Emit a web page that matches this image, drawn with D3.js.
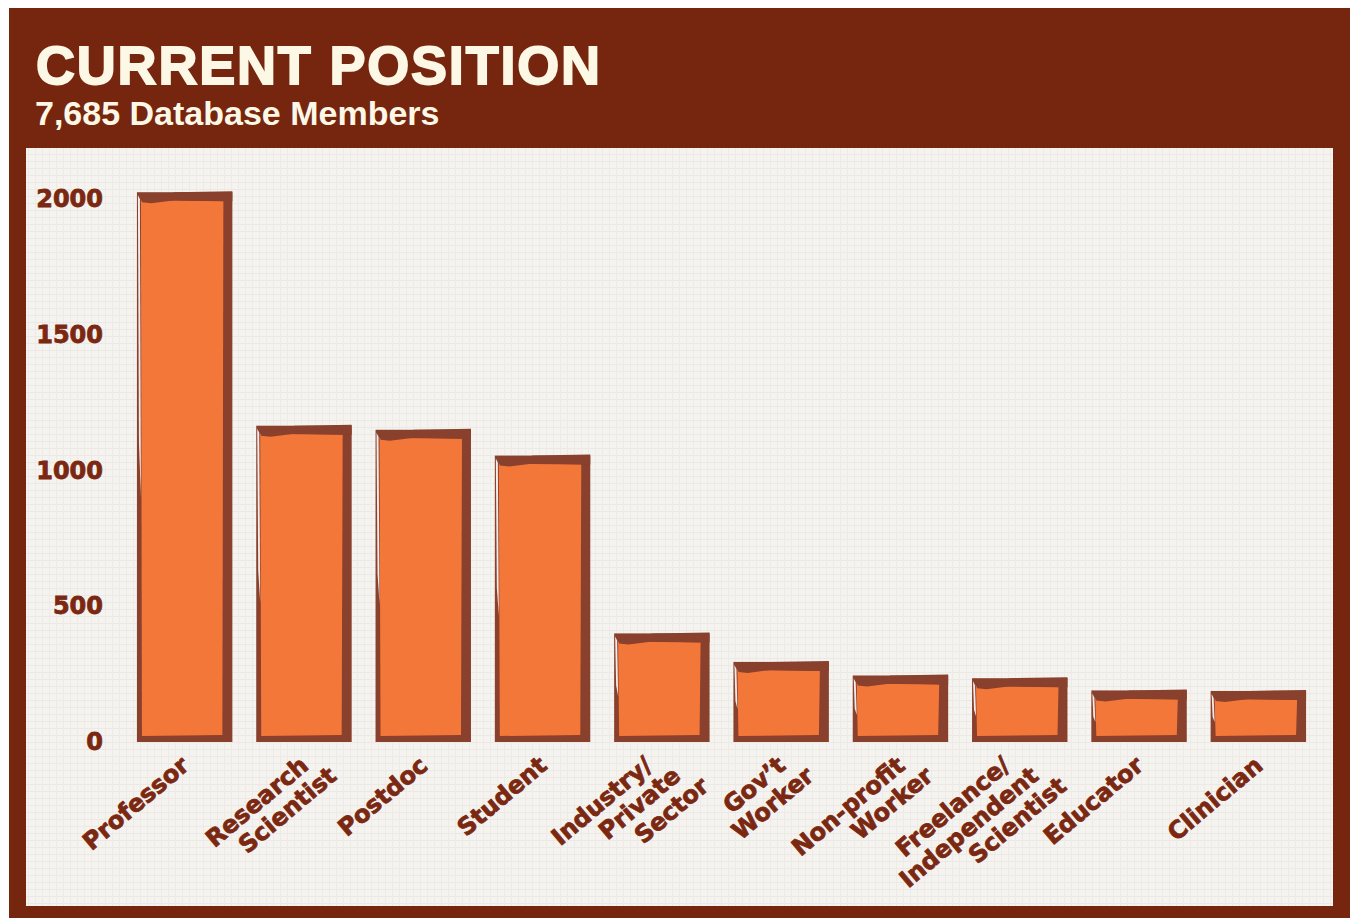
<!DOCTYPE html>
<html>
<head>
<meta charset="utf-8">
<script src="https://cdn.jsdelivr.net/npm/d3@7/dist/d3.min.js"></script>
<style>
  html, body { margin: 0; padding: 0; background: #ffffff; }
  svg { display: block; }
</style>
</head>
<body>
<div id="chart"></div>
<script>
const categories = ["Professor", "Research Scientist", "Postdoc", "Student", "Industry/ Private Sector",
    "Gov't Worker", "Non-profit Worker", "Freelance/ Independent Scientist", "Educator", "Clinician"];
const labelLines = [["Professor"], ["Research", "Scientist"], ["Postdoc"], ["Student"],
    ["Industry/", "Private", "Sector"], ["Gov\u2019t", "Worker"], ["Non-profit", "Worker"],
    ["Freelance/", "Independent", "Scientist"], ["Educator"], ["Clinician"]];
const counts = [2025, 1165, 1150, 1055, 400, 295, 245, 235, 190, 188];
const yTicks = [0, 500, 1000, 1500, 2000];
const title = "CURRENT POSITION";
const subtitle = "7,685 Database Members";

const W = 1352, H = 918;
const brown = "#76260f";
const labelColor = "#7a2811";
const barEdge = "#89402c";
const barFill = "#f4773a";

const svg = d3.select("#chart").append("svg")
    .attr("width", W)
    .attr("height", H);

// linen texture for the panel
const defs = svg.append("defs");
const pat = defs.append("pattern")
    .attr("id", "linen")
    .attr("width", 7).attr("height", 7)
    .attr("patternUnits", "userSpaceOnUse");
pat.append("rect").attr("width", 7).attr("height", 7).attr("fill", "#f5f3f0");
pat.append("line").attr("x1", 0).attr("y1", 0.5).attr("x2", 7).attr("y2", 0.5)
    .attr("stroke", "#ece9e4").attr("stroke-width", 1);
pat.append("line").attr("x1", 0.5).attr("y1", 0).attr("x2", 0.5).attr("y2", 7)
    .attr("stroke", "#eeebe6").attr("stroke-width", 1);

// frame + panel
svg.append("rect").attr("x", 9).attr("y", 8).attr("width", 1341).attr("height", 910).attr("fill", brown);
svg.append("rect").attr("x", 26).attr("y", 148).attr("width", 1307).attr("height", 758).attr("fill", "url(#linen)");

// title
svg.append("text")
    .attr("x", 36).attr("y", 84)
    .attr("font-family", "Liberation Sans, Arial, sans-serif")
    .attr("font-weight", "bold")
    .attr("font-size", 54)
    .attr("letter-spacing", 1.8)
    .attr("fill", "#fdf8e6")
    .attr("stroke", "#fdf8e6").attr("stroke-width", 1.8)
    .text(title);

svg.append("text")
    .attr("x", 35).attr("y", 125)
    .attr("font-family", "Liberation Sans, Arial, sans-serif")
    .attr("font-weight", "bold")
    .attr("font-size", 34)
    .attr("fill", "#fdf8e6")
    .text(subtitle);

// scales
const x = d3.scaleBand()
    .domain(categories)
    .range([125, 1318])
    .paddingInner(0.2)
    .paddingOuter(0.1);

const y = d3.scaleLinear()
    .domain([0, 2000])
    .range([742, 199]);

// y axis
const yAxis = svg.append("g")
    .attr("transform", "translate(103,0)")
    .call(d3.axisLeft(y).tickValues(yTicks).tickFormat(d3.format("d")).tickSize(0).tickPadding(0));
yAxis.select(".domain").remove();
yAxis.selectAll("text")
    .attr("font-family", "DejaVu Sans, Verdana, sans-serif")
    .attr("font-weight", "bold")
    .attr("font-size", 24)
    .attr("stroke", labelColor).attr("stroke-width", 0.8)
    .attr("fill", labelColor);

// bars
const data = categories.map((c, i) => ({ cat: c, value: counts[i], lines: labelLines[i] }));

const bars = svg.append("g").selectAll("g")
    .data(data)
    .join("g")
    .attr("transform", d => `translate(${x(d.cat)},0)`);

const bw = x.bandwidth();

bars.append("rect")
    .attr("x", 0)
    .attr("y", d => y(d.value))
    .attr("width", bw)
    .attr("height", d => y(0) - y(d.value))
    .attr("fill", barEdge);

bars.append("path")
    .attr("fill", barFill)
    .attr("d", d => {
        const t = y(d.value) + 8, b = y(0) - 7;
        return `M4,${t} L${bw - 9},${t + 1} L${bw - 10},${b} L5,${b + 1} Z`;
    });

// brush overhang at top
bars.append("path")
    .attr("fill", barEdge)
    .attr("d", d => {
        const t = y(d.value);
        return `M4,${t + 6} L${bw * 0.25},${t + 4} L${bw * 0.4},${t} L${bw},${t - 1} L${bw},${t + 9} L${bw * 0.4},${t + 8} L${bw * 0.15},${t + 11} L5,${t + 10} Z`;
    });

// white highlight on the left edge
bars.append("path")
    .attr("fill", "#ffffff")
    .attr("opacity", 0.9)
    .attr("d", d => {
        const t = y(d.value) + 3, h = y(0) - y(d.value);
        return `M1,${t} L3,${t + 4} L4,${t + h * 0.55} L2,${t + h * 0.45} Z`;
    });

// category labels, rotated
const labels = svg.append("g").selectAll("text")
    .data(data)
    .join("text")
    .attr("transform", d => {
        const n = d.lines.length;
        const shift = n > 2 ? -14 : 0;
        return `translate(${x(d.cat) + bw / 2 + 6 + shift},768) rotate(-40)`;
    })
    .attr("text-anchor", "end")
    .attr("font-family", "DejaVu Sans, Verdana, sans-serif")
    .attr("font-weight", "bold")
    .attr("font-size", 24)
    .attr("stroke", labelColor).attr("stroke-width", 0.8)
    .attr("fill", labelColor);

labels.selectAll("tspan")
    .data(d => d.lines)
    .join("tspan")
    .attr("x", (d, i) => i * 15)
    .attr("y", (d, i) => i * 26)
    .text(d => d);
</script>
</body>
</html>
